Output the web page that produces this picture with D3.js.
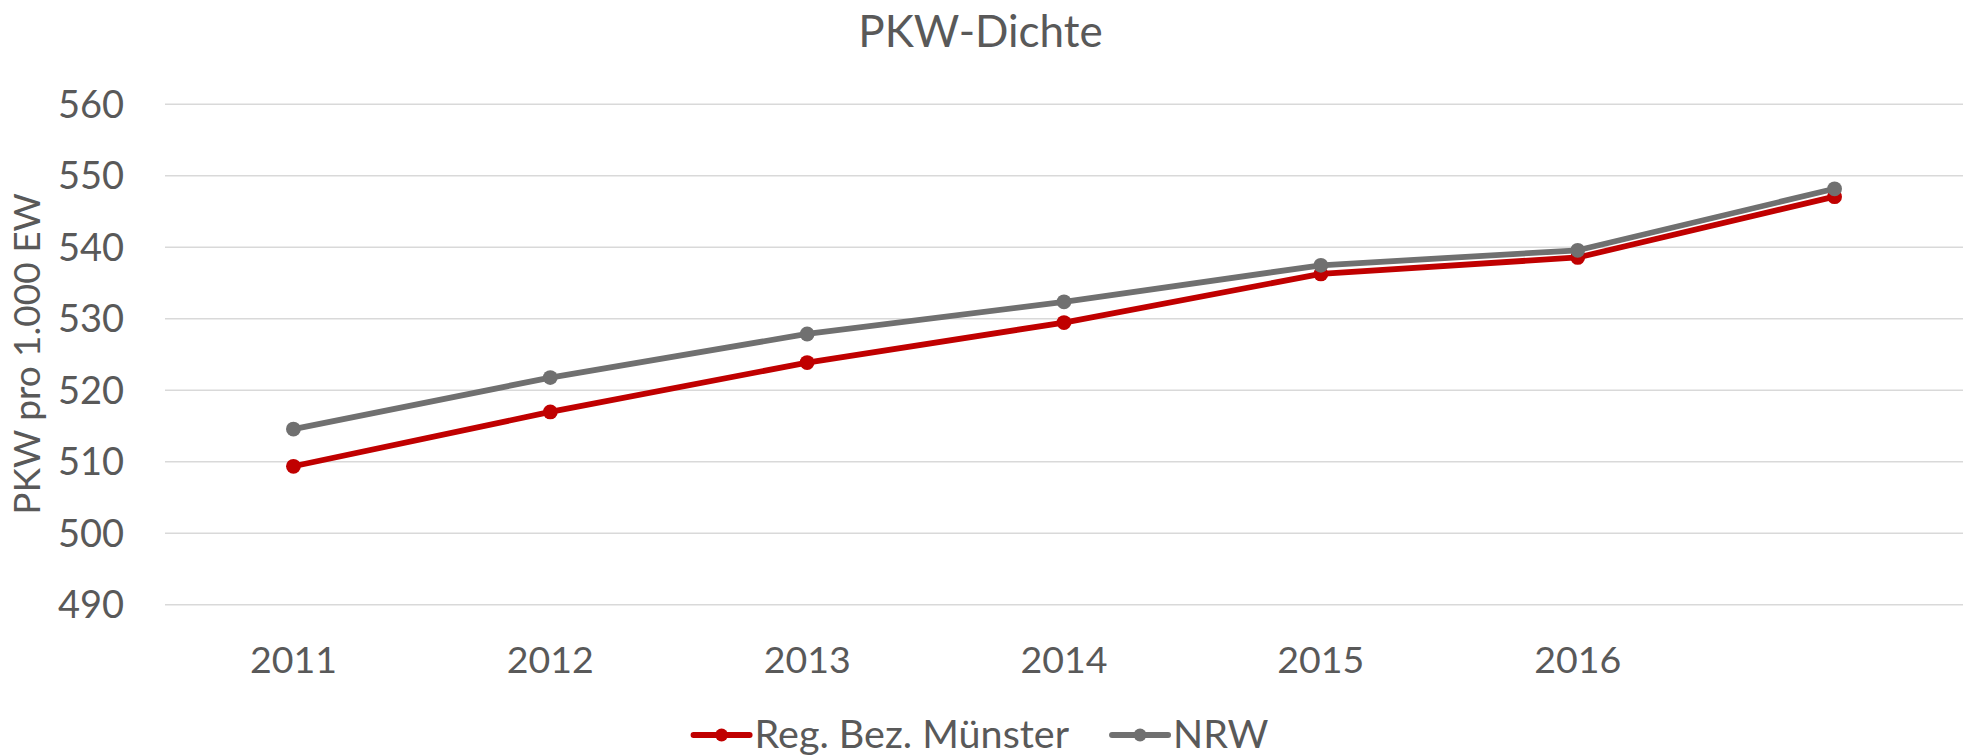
<!DOCTYPE html>
<html>
<head>
<meta charset="utf-8">
<script src="https://cdn.jsdelivr.net/npm/d3@7"></script>
<style>
  html, body { margin: 0; padding: 0; background: #fff; }
  svg { display: block; }
  text { font-family: Lato, "Open Sans", sans-serif; fill: #595959; }
</style>
</head>
<body>
<svg id="chart" width="1972" height="755"></svg>
<script>
// ---- data ----
const title = "PKW-Dichte";
const yAxisTitle = "PKW pro 1.000 EW";
const categories = ["2011", "2012", "2013", "2014", "2015", "2016", ""];
const seriesNames = ["Reg. Bez. Münster", "NRW"];
const muensterValues = [509.3, 516.9, 523.8, 529.4, 536.2, 538.5, 547.0];
const nrwValues = [514.5, 521.7, 527.8, 532.3, 537.4, 539.5, 548.1];
const yTicks = [490, 500, 510, 520, 530, 540, 550, 560];
const seriesColors = ["#C00000", "#707070"];

// ---- layout ----
const W = 1972, H = 755;
const plot = { left: 165, right: 1963, top: 103.7, bottom: 604.3 };
const svg = d3.select("#chart");

const x = d3.scaleBand().domain(d3.range(categories.length)).range([plot.left, plot.right]).padding(0);
const y = d3.scaleLinear().domain([490, 560]).range([plot.bottom, plot.top]);
const cx = i => x(i) + x.bandwidth() / 2;

// gridlines
const yAxis = d3.axisLeft(y).tickValues(yTicks).tickSize(-(plot.right - plot.left)).tickPadding(41).tickFormat(d3.format("d"));
const gY = svg.append("g").attr("transform", `translate(${plot.left},0)`).call(yAxis);
gY.select(".domain").remove();
gY.selectAll(".tick line").attr("stroke", "#D9D9D9").attr("stroke-width", 1.4);
gY.selectAll(".tick text").attr("font-size", 38).attr("fill", "#595959")
  .attr("font-family", "Lato, 'Open Sans', sans-serif").attr("dy", "0.36em");

// x axis labels
const xAxis = d3.axisBottom(x).tickFormat(i => categories[i]).tickSize(0).tickPadding(0);
const gX = svg.append("g").attr("transform", `translate(0,${plot.bottom})`).call(xAxis);
gX.select(".domain").remove();
gX.selectAll(".tick text").attr("font-size", 37.5).attr("fill", "#595959")
  .attr("font-family", "Lato, 'Open Sans', sans-serif").attr("y", 69).attr("dy", 0);

// title
svg.append("text").attr("x", 980.5).attr("y", 46.7).attr("text-anchor", "middle")
  .attr("font-size", 44).text(title);

// y axis title
svg.append("text").attr("transform", `translate(40,354) rotate(-90)`).attr("text-anchor", "middle")
  .attr("font-size", 37).text(yAxisTitle);

// series
const series = [
  { name: seriesNames[0], values: muensterValues, color: seriesColors[0] },
  { name: seriesNames[1], values: nrwValues, color: seriesColors[1] }
];
const line = d3.line().x((d, i) => cx(i)).y(d => y(d));
series.forEach(s => {
  const g = svg.append("g");
  g.append("path").attr("d", line(s.values)).attr("fill", "none")
    .attr("stroke", s.color).attr("stroke-width", 5.8).attr("stroke-linejoin", "round");
  g.selectAll("circle").data(s.values).join("circle")
    .attr("cx", (d, i) => cx(i)).attr("cy", d => y(d)).attr("r", 7.4).attr("fill", s.color);
});

// legend
const legY = 735, legBase = 748.3;
const legG = svg.append("g");
const items = series.map(s => {
  const t = legG.append("text").attr("font-size", 39.5).attr("y", legBase).text(s.name);
  return { s, t, w: t.node().getComputedTextLength() };
});
const symW = 56, symGap = 5, itemGap = 43;
const total = d3.sum(items, d => symW + symGap + d.w) + itemGap * (items.length - 1);
let lx = 981 - total / 2;
items.forEach(it => {
  legG.append("line").attr("x1", lx).attr("x2", lx + symW).attr("y1", legY).attr("y2", legY)
    .attr("stroke", it.s.color).attr("stroke-width", 6).attr("stroke-linecap", "round");
  legG.append("circle").attr("cx", lx + symW / 2).attr("cy", legY).attr("r", 6.5).attr("fill", it.s.color);
  it.t.attr("x", lx + symW + symGap);
  lx += symW + symGap + it.w + itemGap;
});
</script>
</body>
</html>
